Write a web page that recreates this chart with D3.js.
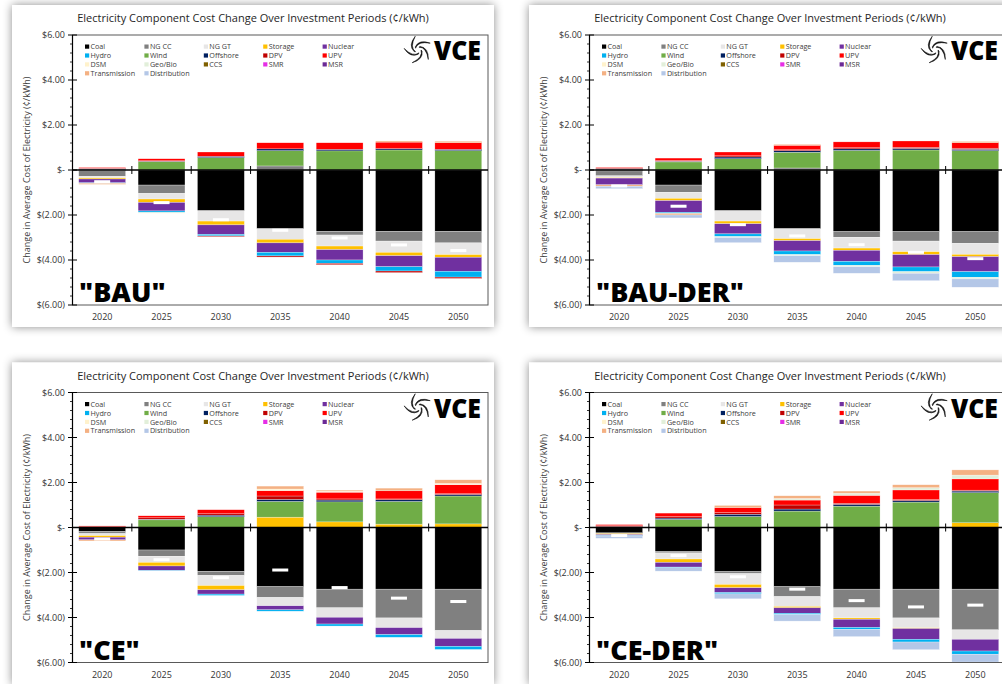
<!DOCTYPE html>
<html><head><meta charset="utf-8">
<script src="https://cdn.jsdelivr.net/npm/d3@7"></script>
<style>
body{margin:0;background:#fff;}
svg{display:block;font-family:"Open Sans",sans-serif;}
</style>
</head><body>
<svg id="c" width="1002" height="684"></svg>
<script>
// ---------------- DATA ----------------
const years = ["2020","2025","2030","2035","2040","2045","2050"];
const seriesNames = ["Coal","NG CC","NG GT","Storage","Nuclear","Hydro","Wind","Offshore","DPV","UPV","DSM","Geo/Bio","CCS","SMR","MSR","Transmission","Distribution"];
const seriesColors = ["#000000","#808080","#e7e6e6","#ffc000","#7030a0","#00b0f0","#70ad47","#002060","#c00000","#ff0000","#fff2cc","#e2efda","#7f6000","#e62ee6","#6b2a96","#f4b183","#b4c7e7"];
const yTickValues = [6,4,2,0,-2,-4,-6];
const yTickLabels = ["$6.00","$4.00","$2.00","$-","$(2.00)","$(4.00)","$(6.00)"];
const scenarioLabels = ['"BAU"','"BAU-DER"','"CE"','"CE-DER"'];
const chartTitle = "Electricity Component Cost Change Over Investment Periods (¢/kWh)";
const yAxisTitle = "Change in Average Cost of Electricity (¢/kWh)";

// cost change by component (¢/kWh), one value per investment period
const BAU = {
  "Coal":        [-0.03,-0.67,-1.81,-2.61,-2.73,-2.73,-2.73],
  "NG CC":       [-0.25,-0.37, 0.00, 0.18,-0.16,-0.43,-0.51],
  "NG GT":       [-0.07,-0.25,-0.46,-0.47,-0.49,-0.50,-0.52],
  "Storage":     [-0.05,-0.15,-0.17,-0.16,-0.16,-0.15,-0.12],
  "Nuclear":     [-0.17,-0.38,-0.42,-0.42,-0.46,-0.49,-0.62],
  "Hydro":       [-0.02,-0.07,-0.07,-0.16,-0.15,-0.19,-0.26],
  "Wind":        [ 0.02, 0.37, 0.55, 0.68, 0.85, 0.89, 0.86],
  "Offshore":    [ 0.04, 0.02, 0.06, 0.08, 0.07, 0.06, 0.06],
  "DPV":         [ 0.02, 0.02,-0.03,-0.05,-0.06,-0.07,-0.06],
  "UPV":         [ 0.03, 0.09, 0.19, 0.27, 0.29, 0.29, 0.29],
  "DSM":         [ 0.00,-0.03, 0.00, 0.00, 0.00, 0.00, 0.00],
  "Transmission":[-0.05, 0.00, 0.00, 0.00, 0.00, 0.05, 0.07]
};
const BAU_DER = {
  "Coal":        [-0.04,-0.67,-1.81,-2.61,-2.74,-2.74,-2.74],
  "NG CC":       [-0.22,-0.32, 0.00, 0.09,-0.25,-0.42,-0.52],
  "NG GT":       [-0.08,-0.27,-0.46,-0.44,-0.48,-0.47,-0.49],
  "Storage":     [-0.02,-0.10,-0.12,-0.09,-0.10,-0.13,-0.10],
  "Nuclear":     [-0.30,-0.52,-0.45,-0.46,-0.49,-0.55,-0.67],
  "Hydro":       [ 0.00,-0.05,-0.12,-0.16,-0.18,-0.21,-0.25],
  "Wind":        [ 0.02, 0.36, 0.50, 0.70, 0.87, 0.89, 0.86],
  "Offshore":    [ 0.04, 0.03, 0.08, 0.07, 0.07, 0.07, 0.06],
  "DPV":         [ 0.03, 0.03, 0.05, 0.04, 0.05, 0.05, 0.05],
  "UPV":         [ 0.03, 0.11, 0.17, 0.20, 0.26, 0.28, 0.24],
  "Geo/Bio":     [ 0.00, 0.00,-0.04,-0.05,-0.06,-0.07,-0.07],
  "Transmission":[-0.06,-0.07, 0.00, 0.04, 0.00, 0.00, 0.06],
  "Distribution":[-0.11,-0.13,-0.23,-0.29,-0.29,-0.33,-0.37]
};
const CE = {
  "Coal":        [-0.18,-1.00,-1.95,-2.63,-2.74,-2.74,-2.74],
  "NG CC":       [-0.09,-0.28,-0.18,-0.48,-0.83,-1.28,-1.84],
  "NG GT":       [-0.09,-0.27,-0.45,-0.37,-0.42,-0.43,-0.35],
  "Storage":     [-0.07,-0.16,-0.19, 0.46, 0.25, 0.15, 0.16],
  "Nuclear":     [-0.12,-0.20,-0.19,-0.18,-0.30,-0.31,-0.35],
  "Hydro":       [ 0.00,-0.02,-0.06,-0.06,-0.09,-0.12,-0.14],
  "Wind":        [ 0.00, 0.34, 0.48, 0.70, 0.89, 1.01, 1.24],
  "Offshore":    [ 0.00, 0.03, 0.07, 0.09, 0.08, 0.07, 0.07],
  "DPV":         [ 0.03, 0.06, 0.06, 0.15, 0.05, 0.04, 0.03],
  "UPV":         [ 0.04, 0.09, 0.18, 0.24, 0.30, 0.36, 0.40],
  "DSM":         [ 0.00, 0.00, 0.00, 0.07, 0.04, 0.00, 0.06],
  "Transmission":[-0.05, 0.00, 0.00, 0.13, 0.05, 0.12, 0.16]
};
const CE_DER = {
  "Coal":        [-0.24,-1.07,-1.96,-2.63,-2.74,-2.74,-2.74],
  "NG CC":       [-0.03,-0.06,-0.09,-0.44,-0.83,-1.28,-1.81],
  "NG GT":       [ 0.00,-0.27,-0.48,-0.44,-0.45,-0.44,-0.42],
  "Storage":     [-0.04,-0.15,-0.15,-0.06,-0.06,-0.03, 0.21],
  "Nuclear":     [-0.05,-0.21,-0.21,-0.24,-0.36,-0.48,-0.52],
  "Hydro":       [-0.02,-0.03,-0.06,-0.06,-0.09,-0.12,-0.14],
  "Wind":        [ 0.02, 0.36, 0.49, 0.73, 0.95, 1.13, 1.34],
  "Offshore":    [ 0.02, 0.06, 0.10, 0.09, 0.08, 0.07, 0.07],
  "DPV":         [ 0.04, 0.06, 0.07, 0.18, 0.05, 0.04, 0.04],
  "UPV":         [ 0.05, 0.16, 0.23, 0.22, 0.35, 0.43, 0.50],
  "Geo/Bio":     [ 0.00, 0.00, 0.00, 0.07, 0.09, 0.10, 0.17],
  "Transmission":[ 0.00, 0.00, 0.09, 0.12, 0.10, 0.13, 0.23],
  "Distribution":[-0.10,-0.15,-0.22,-0.29,-0.32,-0.34,-0.35]
};
// net change (white markers)
const BAU_NET    = [-0.52,-1.45,-2.21,-2.68,-3.02,-3.33,-3.58];
const BAU_DER_NET= [-0.71,-1.61,-2.43,-2.93,-3.32,-3.66,-3.94];
const CE_NET     = [-0.51,-1.43,-2.23,-1.89,-2.67,-3.14,-3.29];
const CE_DER_NET = [-0.36,-1.25,-2.19,-2.74,-3.25,-3.53,-3.45];

// ---------------- DRAWING ----------------
const svg = d3.select("#c");
const defs = svg.append("defs");
const f = defs.append("filter").attr("id","sh").attr("x","-10%").attr("y","-10%").attr("width","120%").attr("height","120%");
f.append("feDropShadow").attr("dx",0).attr("dy",0).attr("stdDeviation",5)
  .attr("flood-color","#000").attr("flood-opacity",0.45);

const panels = [
  {label: scenarioLabels[0], data: BAU,     net: BAU_NET,     dx: 0,   dy: 0},
  {label: scenarioLabels[1], data: BAU_DER, net: BAU_DER_NET, dx: 517, dy: 0},
  {label: scenarioLabels[2], data: CE,      net: CE_NET,      dx: 0,   dy: 357.5},
  {label: scenarioLabels[3], data: CE_DER,  net: CE_DER_NET,  dx: 517, dy: 357.5}
];
const colorOf = d3.scaleOrdinal().domain(seriesNames).range(seriesColors);

function drawLogo(g, cx, cy) {
  const lg = g.append("g");
  const p = (r, t) => [cx + r * Math.cos(t), cy + r * Math.sin(t)];
  for (let i = 0; i < 5; i++) {
    const a = i * 2 * Math.PI / 5;
    // tapered spiral blade
    const [ax,ay] = p(3, a), [bx,by] = p(9, a + 0.9), [cx2,cy2] = p(14, a + 2.0);
    const [dx,dy] = p(11, a + 1.05), [ex,ey] = p(4.2, a + 0.25);
    lg.append("path")
      .attr("d", `M${ax},${ay} Q${bx},${by} ${cx2},${cy2} Q${dx},${dy} ${ex},${ey} Z`)
      .attr("fill","#111").attr("stroke","#111").attr("stroke-width",0.6).attr("stroke-linejoin","round");
  }
  g.append("text").attr("x", cx + 16).attr("y", cy + 10)
    .attr("font-size", 27).attr("font-weight", 800).attr("fill", "#000")
    .attr("textLength", 47).attr("lengthAdjust","spacingAndGlyphs")
    .text("VCE");
}

function drawPanel(p, idx) {
  const g = svg.append("g").attr("transform", `translate(${p.dx},${p.dy})`);
  g.append("rect").attr("x", 12).attr("y", 5).attr("width", 482).attr("height", 322)
    .attr("fill", "#fff").attr("filter", "url(#sh)");

  const L = 72.5, R = 488, T = 35, B = 305;
  const x = d3.scaleBand().domain(years).range([L, R]).paddingInner(0.21).paddingOuter(0.105);
  const y = d3.scaleLinear().domain([-6, 6]).range([B, T]);

  g.append("text").attr("x", 253).attr("y", 22).attr("text-anchor", "middle")
    .attr("font-size", 11).attr("fill", "#262626").text(chartTitle);

  // y axis title
  g.append("text").attr("transform", `translate(30,${y(0)}) rotate(-90)`)
    .attr("text-anchor", "middle").attr("font-size", 9).attr("fill", "#404040").text(yAxisTitle);

  // y tick labels
  g.selectAll(".yl").data(yTickValues).enter().append("text")
    .attr("x", 65).attr("y", d => y(d)).attr("dy", "0.35em")
    .attr("text-anchor", "end").attr("font-size", 9).attr("fill", "#333")
    .text((d, i) => yTickLabels[i]);

  // x labels
  g.selectAll(".xl").data(years).enter().append("text")
    .attr("x", d => x(d) + x.bandwidth() / 2).attr("y", 320)
    .attr("text-anchor", "middle").attr("font-size", 9).attr("fill", "#333").text(d => d);

  // stacked bars
  const rows = years.map((yr, i) => {
    const o = {year: yr};
    seriesNames.forEach(s => { o[s] = p.data[s] ? p.data[s][i] : 0; });
    return o;
  });
  const stacked = d3.stack().keys(seriesNames).offset(d3.stackOffsetDiverging)(rows);
  const cid = "clip" + idx;
  defs.append("clipPath").attr("id", cid).append("rect")
    .attr("x", L).attr("y", T).attr("width", R - L).attr("height", B - T);
  const bars = g.append("g").attr("clip-path", `url(#${cid})`);
  bars.selectAll("g.s").data(stacked).enter().append("g")
    .attr("fill", d => colorOf(d.key))
    .selectAll("rect").data(d => d.filter(v => Math.abs(v[1] - v[0]) > 1e-9)).enter().append("rect")
    .attr("x", d => x(d.data.year)).attr("width", x.bandwidth())
    .attr("y", d => y(Math.max(d[0], d[1])))
    .attr("height", d => Math.abs(y(d[0]) - y(d[1])))
    .attr("stroke", "#fff").attr("stroke-width", 0.4).attr("stroke-opacity", 0.7);

  // net markers
  g.selectAll(".net").data(p.net).enter().append("rect")
    .attr("x", (d, i) => x(years[i]) + x.bandwidth() / 2 - 8)
    .attr("y", d => y(d) - 1.5).attr("width", 16).attr("height", 3).attr("fill", "#fff");

  // plot frame
  g.append("rect").attr("x", L).attr("y", T).attr("width", R - L).attr("height", B - T)
    .attr("fill", "none").attr("stroke", "#595959").attr("stroke-width", 1);
  // y axis line
  g.append("line").attr("x1", L).attr("x2", L).attr("y1", T).attr("y2", B).attr("stroke", "#000").attr("stroke-width", 1.2);
  // major ticks
  g.selectAll(".mt").data(yTickValues).enter().append("line")
    .attr("x1", L - 4.5).attr("x2", L + 4.5).attr("y1", d => y(d)).attr("y2", d => y(d))
    .attr("stroke", "#000").attr("stroke-width", 1);
  // minor ticks
  const minor = d3.range(-6, 6.001, 0.4).filter(v => Math.abs(v / 2 - Math.round(v / 2)) > 0.01);
  g.selectAll(".mn").data(minor).enter().append("line")
    .attr("x1", L - 2.5).attr("x2", L).attr("y1", d => y(d)).attr("y2", d => y(d))
    .attr("stroke", "#000").attr("stroke-width", 0.8);
  // zero axis with category boundary ticks
  g.append("line").attr("x1", L).attr("x2", R).attr("y1", y(0)).attr("y2", y(0))
    .attr("stroke", "#000").attr("stroke-width", 1.3);
  const step = x.step();
  g.selectAll(".ct").data(d3.range(1, years.length)).enter().append("line")
    .attr("x1", d => L + d * step).attr("x2", d => L + d * step)
    .attr("y1", y(0) - 4).attr("y2", y(0) + 4).attr("stroke", "#000").attr("stroke-width", 1);

  // legend
  const lg = g.append("g");
  seriesNames.forEach((s, i) => {
    const c = i % 5, r = Math.floor(i / 5);
    const lx = 85 + c * 59.4, ly = 46.7 + r * 8.9;
    lg.append("rect").attr("x", lx).attr("y", ly - 2.2).attr("width", 4.2).attr("height", 4.2).attr("fill", colorOf(s));
    lg.append("text").attr("x", lx + 5.5).attr("y", ly).attr("dy", "0.35em")
      .attr("font-size", 7.2).attr("fill", "#404040").text(s);
  });

  drawLogo(g, 418, 50);

  g.append("text").attr("x", 79).attr("y", 302).attr("font-size", 27).attr("font-weight", 800)
    .attr("fill", "#000").text(p.label);
}
panels.forEach(drawPanel);
</script>
</body></html>
